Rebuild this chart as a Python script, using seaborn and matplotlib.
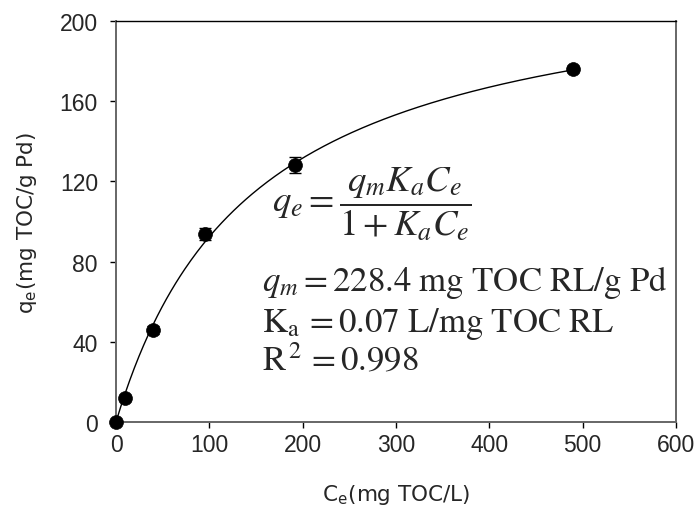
import numpy as np
import pandas as pd
import matplotlib
matplotlib.use("Agg")
import matplotlib.pyplot as plt
import seaborn as sns

# Data
ce = [0, 10, 40, 95, 192, 490]
qe = [0, 12, 46, 94, 128, 176]
qe_err = [0, 1.5, 2.0, 3.0, 4.0, 1.5]

# Langmuir fit parameters (curve shape)
qm_fit = 228.4
ka_fit = 0.0068

x_ticks = [0, 100, 200, 300, 400, 500, 600]
y_ticks = [0, 40, 80, 120, 160, 200]

sns.set_theme(style="ticks")
plt.rcParams['font.family'] = ['Liberation Sans', 'DejaVu Sans']
plt.rcParams['mathtext.fontset'] = 'stix'

fig = plt.figure(figsize=(6.99, 5.10), dpi=100)
ax = fig.add_axes([116/699, 1 - 423/510, 560/699, 401/510])

df = pd.DataFrame({"Ce": ce, "qe": qe, "err": qe_err})

cfit = np.linspace(0, max(ce), 300)
qfit = qm_fit * ka_fit * cfit / (1 + ka_fit * cfit)
sns.lineplot(x=cfit, y=qfit, ax=ax, color="black", linewidth=1.0, zorder=2)

ax.errorbar(df["Ce"], df["qe"], yerr=df["err"], fmt="none", ecolor="black",
            elinewidth=1.0, capsize=4.3, capthick=1.0, zorder=3)
sns.scatterplot(data=df, x="Ce", y="qe", ax=ax, color="black", s=100,
                edgecolor="black", linewidth=0.5, zorder=4, clip_on=False)

ax.set_xlim(0, 600)
ax.set_ylim(0, 200)
ax.set_xticks(x_ticks)
ax.set_yticks(y_ticks)
ax.tick_params(axis="both", direction="out", length=4, width=1.0,
               labelsize=16.5, color="black")
ax.tick_params(axis="x", pad=4)
ax.tick_params(axis="y", pad=9)

for side in ["left", "bottom", "right"]:
    ax.spines[side].set_color("#666666")
    ax.spines[side].set_linewidth(1.4)
ax.spines["top"].set_color("black")
ax.spines["top"].set_linewidth(1.0)

lab_font = dict(fontsize=15.5, family=["DejaVu Sans"])
ax.set_xlabel(r"C$_\mathregular{e}$(mg TOC/L)", **lab_font)
ax.set_ylabel(r"q$_\mathregular{e}$(mg TOC/g Pd)", **lab_font)
ax.xaxis.set_label_coords(0.5, -0.150)
ax.yaxis.set_label_coords(-0.137, 0.5)

ax.text(0.279, 0.545, r"$q_e = \dfrac{q_m K_a C_e}{1 + K_a C_e}$",
        transform=ax.transAxes, fontsize=26.5, va="center", ha="left")
ax.text(0.261, 0.350, r"$q_m = \mathrm{228.4\ mg\ TOC\ RL/g\ Pd}$",
        transform=ax.transAxes, fontsize=25, va="center", ha="left")
ax.text(0.261, 0.247, r"$\mathrm{K_a\, = 0.07\ L/mg\ TOC\ RL}$",
        transform=ax.transAxes, fontsize=25, va="center", ha="left")
ax.text(0.261, 0.155, r"$\mathrm{R^{\,2}\, = 0.998}$",
        transform=ax.transAxes, fontsize=25, va="center", ha="left")

fig.savefig("out.png", dpi=100)
